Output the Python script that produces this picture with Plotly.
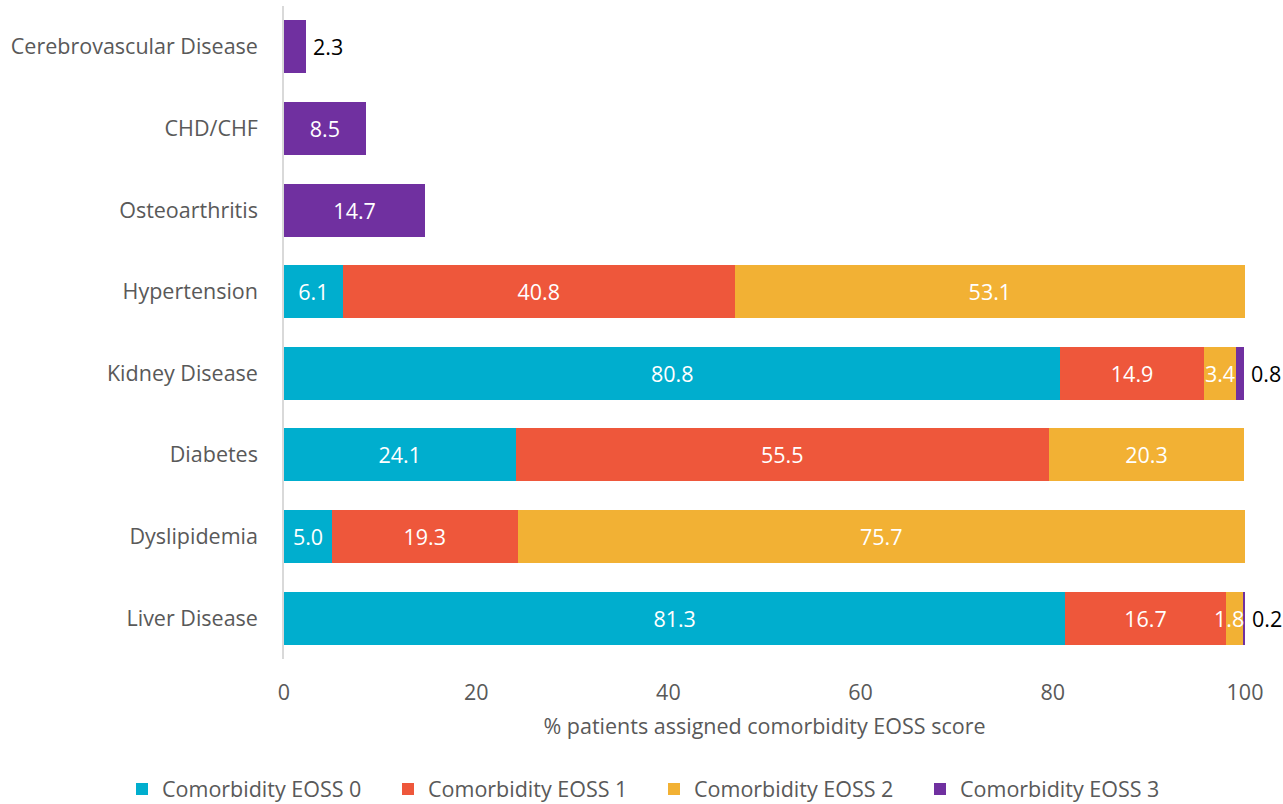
import plotly.graph_objects as go

categories = ["Liver Disease", "Dyslipidemia", "Diabetes", "Kidney Disease",
              "Hypertension", "Osteoarthritis", "CHD/CHF", "Cerebrovascular Disease"]
series_names = ["Comorbidity EOSS 0", "Comorbidity EOSS 1", "Comorbidity EOSS 2", "Comorbidity EOSS 3"]
eoss0 = [81.3, 5.0, 24.1, 80.8, 6.1, None, None, None]
eoss1 = [16.7, 19.3, 55.5, 14.9, 40.8, None, None, None]
eoss2 = [1.8, 75.7, 20.3, 3.4, 53.1, None, None, None]
eoss3 = [0.2, None, None, 0.8, None, 14.7, 8.5, 2.3]
colors = ["#00AECE", "#EE573B", "#F2B134", "#7030A0"]
xticks = [0, 20, 40, 60, 80, 100]

FONT = "Open Sans"
FS = 21.5
GREY = "#595959"
all_series = [eoss0, eoss1, eoss2, eoss3]

fig = go.Figure()
annotations = []
for si, (name, vals, col) in enumerate(zip(series_names, all_series, colors)):
    texts = []
    for i, v in enumerate(vals):
        end = sum((s[i] or 0) for s in all_series[:si + 1])
        if v is None:
            texts.append("")
        elif si == 3 and v < 3:
            texts.append("")
            annotations.append(dict(x=end, y=categories[i], xref="x", yref="y",
                                    text=f"{v:.1f}", showarrow=False, xanchor="left",
                                    xshift=5, font=dict(color="black", size=FS, family=FONT)))
        elif v < 2:
            texts.append("")
            annotations.append(dict(x=end, y=categories[i], xref="x", yref="y",
                                    text=f"{v:.1f}", showarrow=False, xanchor="right",
                                    xshift=3, font=dict(color="white", size=FS, family=FONT)))
        else:
            texts.append(f"{v:.1f}")
    fig.add_trace(go.Bar(
        y=categories, x=vals, name=name, orientation="h",
        marker=dict(color=col, line=dict(width=0)),
        text=texts, textposition="inside", insidetextanchor="middle",
        textangle=0, constraintext="none",
        textfont=dict(color="white", size=FS, family=FONT),
        cliponaxis=False,
    ))

fig.update_layout(
    barmode="stack", bargap=0.35,
    width=1283, height=804,
    margin=dict(l=284, r=38, t=6, b=145, autoexpand=False),
    plot_bgcolor="white", paper_bgcolor="white",
    font=dict(family=FONT, size=FS, color=GREY),
    annotations=annotations,
    legend=dict(orientation="h", xref="paper", x=(122 - 284) / 961, xanchor="left",
                yref="paper", y=(659 - 789) / 653, yanchor="middle",
                font=dict(size=FS, color=GREY),
                entrywidth=221, entrywidthmode="pixels", traceorder="normal"),
)
fig.update_xaxes(range=[0, 100], tickvals=xticks, showgrid=False, zeroline=False,
                 showline=False, ticks="", ticklabelstandoff=18,
                 tickfont=dict(size=FS, color=GREY),
                 title=dict(text="% patients assigned comorbidity EOSS score",
                            font=dict(size=FS, color=GREY), standoff=14))
fig.update_yaxes(showline=True, linecolor="#D9D9D9", linewidth=1.5, showgrid=False,
                 ticks="", ticklabelstandoff=20,
                 tickfont=dict(size=FS, color=GREY))
fig.write_html("out.html")
